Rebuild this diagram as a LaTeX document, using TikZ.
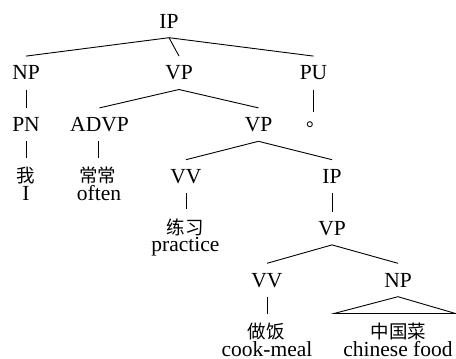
\documentclass[tikz,border=0pt]{standalone}
\usepackage{fontspec}
\setmainfont{Liberation Serif}
\newfontfamily\cjkfont{Noto Sans CJK SC}
\begin{document}
\begin{tikzpicture}[x=1pt,y=-1pt,
  cat/.style={anchor=base, font=\fontsize{21.5}{24}\selectfont, text height=14pt, text depth=0pt, inner xsep=2pt, inner ysep=9.5pt},
  zh/.style={anchor=center, font=\cjkfont\fontsize{18.5}{22}\selectfont, text height=16pt, text depth=1.5pt, inner ysep=9pt, inner xsep=0pt},
  en/.style={anchor=base, font=\fontsize{21.5}{24}\selectfont, inner sep=0pt},
  edge/.style={line width=0.9pt}]
\path[use as bounding box] (0,0) rectangle (456,359);
% categories
\node[cat] (ip)   at (169,28)    {IP};
\node[cat] (np)   at (26,79.8)   {NP};
\node[cat] (vp)   at (179,79.8)  {VP};
\node[cat] (pu)   at (313.5,79.8){PU};
\node[cat] (pn)   at (26,131.6)  {PN};
\node[cat] (advp) at (99.5,131.6){ADVP};
\node[cat] (vpb)  at (258.5,131.6){VP};
\node[anchor=base west, inner sep=0pt, text height=14pt, font=\cjkfont\fontsize{19.5}{22}\selectfont] (pc) at (306,126.5) {。};
\node[cat] (vv)   at (186,183.4) {VV};
\node[cat] (ipb)  at (332,183.4) {IP};
\node[cat] (vpc)  at (332,235.2) {VP};
\node[cat] (vvb)  at (267,287)   {VV};
\node[cat] (npb)  at (398,287)   {NP};
% leaves
\node[zh] (wo)  at (26,175.6)   {我};
\node[en] (woE) at (26,200.6)   {I};
\node[zh] (cc)  at (97.5,175.6) {常常};
\node[en] (ccE) at (99,200.6)   {often};
\node[zh] (lx)  at (185,227.4)  {练习};
\node[en] (lxE) at (185.5,251.5){practice};
\node[zh] (zf)  at (266,331.5)  {做饭};
\node[en] (zfE) at (267,356)    {cook-meal};
\node[zh] (zg)  at (398.5,331.5){中国菜};
\node[en] (zgE) at (398,356)    {chinese food};
\coordinate (tl) at (334,313.5);
\coordinate (tr) at (455.5,313.5);
% edges
\draw[edge] (ip.south) -- (np.north);
\draw[edge] (ip.south) -- (vp.north);
\draw[edge] (ip.south) -- (pu.north);
\draw[edge] (np.south) -- (pn.north);
\draw[edge] (pn.south) -- (pn.south |- wo.north);
\draw[edge] (vp.south) -- (advp.north);
\draw[edge] (vp.south) -- (vpb.north);
\draw[edge] ([xshift=-1pt]advp.south) -- ([xshift=-1pt]advp.south |- cc.north);
\draw[edge] (pu.south) -- (pu.south |- pc.north);
\draw[edge] (vpb.south) -- (vv.north);
\draw[edge] (vpb.south) -- (ipb.north);
\draw[edge] (vv.south) -- (vv.south |- lx.north);
\draw[edge] (ipb.south) -- (vpc.north);
\draw[edge] (vpc.south) -- (vvb.north);
\draw[edge] (vpc.south) -- (npb.north);
\draw[edge] (vvb.south) -- (vvb.south |- zf.north);
\draw[edge] (npb.south) -- (tl) -- (tr) -- cycle;
\end{tikzpicture}
\end{document}
